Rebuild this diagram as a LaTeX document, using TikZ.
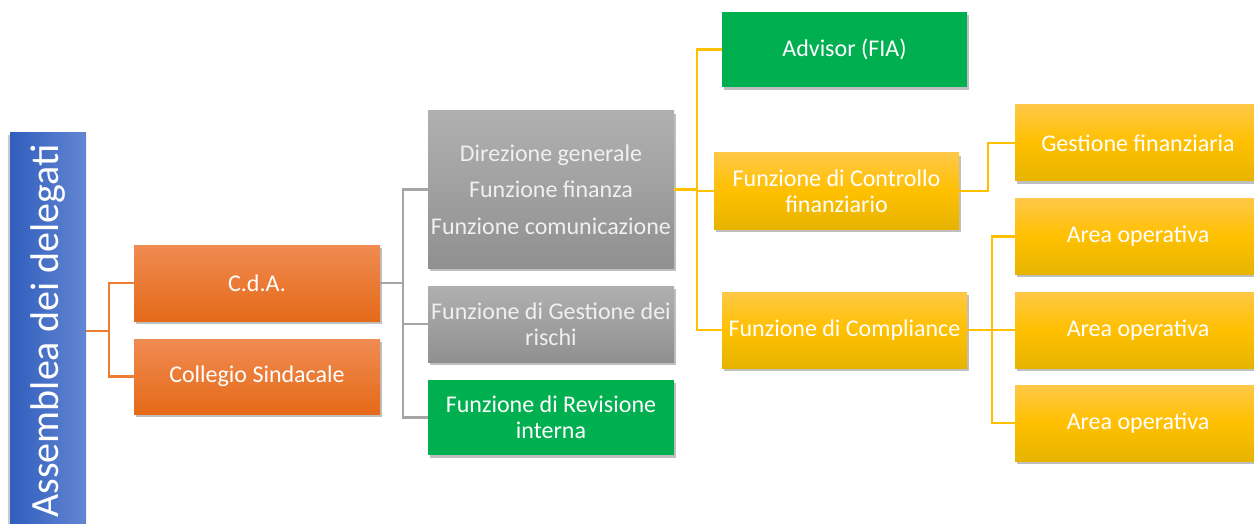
\documentclass[tikz,border=0pt]{standalone}
\usepackage{fontspec}
\setmainfont{Carlito}
\usetikzlibrary{shadows}

\definecolor{bluTop}{HTML}{6386D2}
\definecolor{bluBot}{HTML}{305EBD}
\definecolor{arTop}{HTML}{F08B52}
\definecolor{arBot}{HTML}{E56A18}
\definecolor{arLine}{HTML}{ED7D31}
\definecolor{grTop}{HTML}{B0B0B0}
\definecolor{grBot}{HTML}{909090}
\definecolor{grLine}{HTML}{A5A5A5}
\definecolor{giTop}{HTML}{FFC846}
\definecolor{giMid}{HTML}{FFC000}
\definecolor{giBot}{HTML}{E6B400}
\definecolor{verde}{HTML}{00B050}

\begin{document}
\begin{tikzpicture}[x=1pt,y=-1pt,
  box/.style={minimum width=246pt,minimum height=76pt,inner sep=2pt,
    text=white,align=center,font=\fontsize{24}{26}\selectfont,
    drop shadow={shadow xshift=2pt,shadow yshift=-3pt,opacity=0.25,fill=black}},
  arancio/.style={box,top color=arTop,bottom color=arBot},
  grigio/.style={box,top color=grTop,bottom color=grBot,text=white!94!black},
  giallo/.style={box,top color=giTop,bottom color=giBot,middle color=giMid},
  verde/.style={box,fill=verde},
  ramo/.style={line width=2.2pt}]

\useasboundingbox (0,0) rectangle (1254,524);

% assemblea
\node[rotate=90,minimum width=396pt,minimum height=76pt,inner sep=0pt,
  left color=bluBot,right color=bluTop,text=white,font=\fontsize{40}{44}\selectfont,
  drop shadow={shadow xshift=-2pt,shadow yshift=-2pt,opacity=0.2,fill=black}]
  (ass) at (48,331) {Assemblea dei delegati};

% primo livello
\node[arancio] (cda) at (257,283) {C.d.A.};
\node[arancio,minimum height=75pt] (coll) at (257,376.5) {Collegio Sindacale};

% funzioni
\node[grigio,minimum height=157pt,font=\fontsize{24}{36.5}\selectfont] (dir) at (551,189.5)
  {Direzione generale\\Funzione finanza\\Funzione comunicazione};
\node[grigio] (rischi) at (551,324) {Funzione di Gestione dei\\rischi};
\node[verde,minimum height=75pt] (rev) at (551,417.5) {Funzione di Revisione\\interna};

% controlli
\node[verde,minimum width=245pt,minimum height=75pt] (adv) at (844.5,49.5) {Advisor (FIA)};
\node[giallo,minimum width=245pt] (contr) at (836.5,191) {Funzione di Controllo\\finanziario};
\node[giallo,minimum width=245pt] (compl) at (844.5,330) {Funzione di Compliance};

% aree
\node[giallo] (gest) at (1138,143) {Gestione finanziaria};
\node[giallo,minimum height=75pt] (area1) at (1138,236.5) {Area operativa};
\node[giallo] (area2) at (1138,330) {Area operativa};
\node[giallo] (area3) at (1138,423) {Area operativa};

% rami
\draw[ramo,arLine] (ass.south) -- ++(23,0) coordinate (jo);
\draw[ramo,arLine] (cda.west) -| (jo) |- (coll.west);

\coordinate (jg) at (403,283);
\draw[ramo,grLine] (cda.east) -- (jg);
\draw[ramo,grLine] (dir.west) -| (jg) |- (rev.west);
\draw[ramo,grLine] (rischi.west) -- (jg |- rischi.west);

\coordinate (jy) at (697,189.5);
\draw[ramo,giMid] (dir.east) -- (jy);
\draw[ramo,giMid] (adv.west) -| (jy) |- (compl.west);
\draw[ramo,giMid] (contr.west) -- (jy |- contr.west);

\coordinate (jc) at (988,191);
\draw[ramo,giMid] (contr.east) -- (jc) |- (gest.west);

\coordinate (ja) at (992,330);
\draw[ramo,giMid] (compl.east) -- (area2.west);
\draw[ramo,giMid] (area1.west) -| (ja) |- (area3.west);

\end{tikzpicture}
\end{document}
